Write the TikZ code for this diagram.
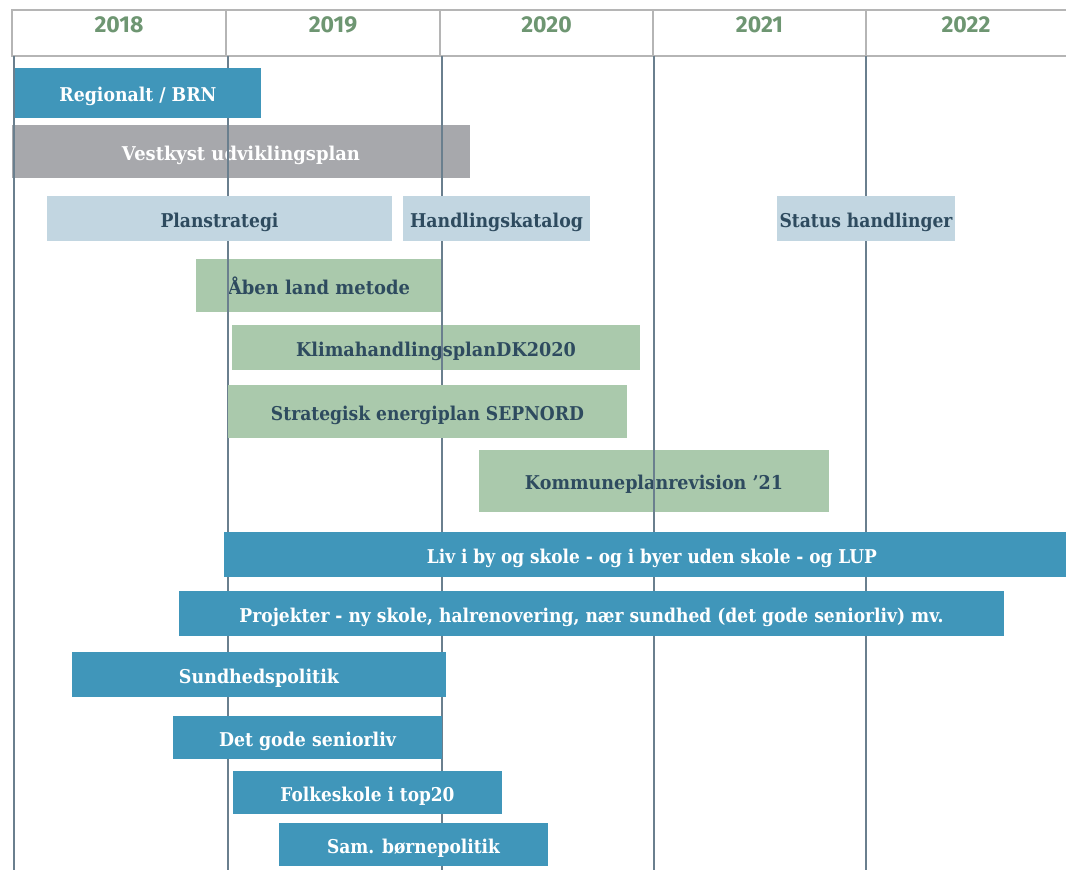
\documentclass[tikz,border=0pt]{standalone}
\usepackage{fontspec}
\usepackage{graphicx}
\newfontfamily\barfont{DejaVu Serif}
\newfontfamily\yearfont{Fira Sans}
\definecolor{cblue}{RGB}{64,150,186}
\definecolor{cgrey}{RGB}{167,168,172}
\definecolor{clight}{RGB}{194,214,225}
\definecolor{cgreen}{RGB}{170,201,172}
\definecolor{cdark}{RGB}{46,75,95}
\definecolor{cyear}{RGB}{110,150,114}
\definecolor{chdr}{RGB}{181,181,181}
\definecolor{cline}{RGB}{106,127,142}
\newcommand{\fitw}[2]{\resizebox{#1pt}{\height}{#2}}
\begin{document}
\begin{tikzpicture}[x=1pt,y=-1pt,
  bar/.style={rectangle, inner sep=0pt, outer sep=0pt, text height=17pt, text depth=0pt,
    font=\barfont\bfseries\fontsize{19}{19}\selectfont},
  bluebar/.style={bar, fill=cblue, text=white},
  greybar/.style={bar, fill=cgrey, text=white},
  lightbar/.style={bar, fill=clight, text=cdark},
  greenbar/.style={bar, fill=cgreen, text=cdark},
  hdrcell/.style={rectangle, draw=chdr, line width=1.3pt, inner sep=0pt, minimum height=46pt},
  year/.style={font=\yearfont\bfseries\fontsize{23}{23}\selectfont, text=cyear, inner sep=0pt},
  yearline/.style={draw=cline, line width=1.2pt}
]
\useasboundingbox (0,0) rectangle (1066,870);
\clip (0,0) rectangle (1066,870);
\fill[white] (0,0) rectangle (1066,870);

% header
\node[hdrcell, minimum width=214pt] (h18) at (119,33) {};
\node[hdrcell, minimum width=214pt] (h19) at (333,33) {};
\node[hdrcell, minimum width=213pt] (h20) at (546.5,33) {};
\node[hdrcell, minimum width=213pt] (h21) at (759.5,33) {};
\node[hdrcell, minimum width=214pt] (h22) at (973,33) {};
\node[year] (y18) at (119,25) {2018};
\node[year] (y19) at (333,25) {2019};
\node[year] (y20) at (546.5,25) {2020};
\node[year] (y21) at (759.5,25) {2021};
\node[year] (y22) at (966,25) {2022};

% bars below the year lines
\node[greybar, minimum width=458pt, minimum height=53pt] (vest) at (241,151.5) {\fitw{238}{Vestkyst udviklingsplan}};
\node[greenbar, minimum width=246pt, minimum height=53pt] (aaben) at (319,285.5) {\fitw{182}{Åben land metode}};
\node[greenbar, minimum width=408pt, minimum height=45pt] (klima) at (436,347.5) {\fitw{280}{KlimahandlingsplanDK2020}};
\node[greenbar, minimum width=350pt, minimum height=62pt] (kplan) at (654,481) {\fitw{258}{Kommuneplanrevision ’21}};

% year lines
\coordinate (l1t) at (14,56);   \coordinate (l1b) at (14,870);
\coordinate (l2t) at (228,56);  \coordinate (l2b) at (228,870);
\coordinate (l3t) at (442,56);  \coordinate (l3b) at (442,870);
\coordinate (l4t) at (654,56);  \coordinate (l4b) at (654,870);
\coordinate (l5t) at (866,56);  \coordinate (l5b) at (866,870);
\draw[yearline] (l1t) -- (l1b);
\draw[yearline] (l2t) -- (l2b);
\draw[yearline] (l3t) -- (l3b);
\draw[yearline] (l4t) -- (l4b);
\draw[yearline] (l5t) -- (l5b);

% bars above the year lines
\node[bluebar, minimum width=246pt, minimum height=50pt] (reg) at (138,93) {\fitw{157}{Regionalt / BRN}};
\node[lightbar, minimum width=345pt, minimum height=45pt] (plan) at (219.5,218.5) {\fitw{118}{Planstrategi}};
\node[lightbar, minimum width=187pt, minimum height=45pt] (hand) at (496.5,218.5) {\fitw{173}{Handlingskatalog}};
\node[lightbar, minimum width=178pt, minimum height=45pt] (status) at (866,218.5) {\fitw{173}{Status handlinger}};
\node[greenbar, minimum width=399pt, minimum height=53pt] (sep) at (427.5,411.5) {\fitw{313}{Strategisk energiplan SEPNORD}};
\node[bluebar, minimum width=856pt, minimum height=45pt] (liv) at (652,554.5) {\fitw{450}{Liv i by og skole - og i byer uden skole - og LUP}};
\node[bluebar, minimum width=825pt, minimum height=45pt] (proj) at (591.5,613.5) {\fitw{704}{Projekter - ny skole, halrenovering, nær sundhed (det gode seniorliv) mv.}};
\node[bluebar, minimum width=374pt, minimum height=45pt] (sund) at (259,674.5) {\fitw{160}{Sundhedspolitik}};
\node[bluebar, minimum width=269pt, minimum height=43pt] (senior) at (307.5,737.5) {\fitw{177}{Det gode seniorliv}};
\node[bluebar, minimum width=269pt, minimum height=43pt] (folk) at (367.5,792.5) {\fitw{174}{Folkeskole i top20}};
\node[bluebar, minimum width=269pt, minimum height=43pt] (born) at (413.5,844.5) {\fitw{173}{Sam. børnepolitik}};
\end{tikzpicture}
\end{document}
